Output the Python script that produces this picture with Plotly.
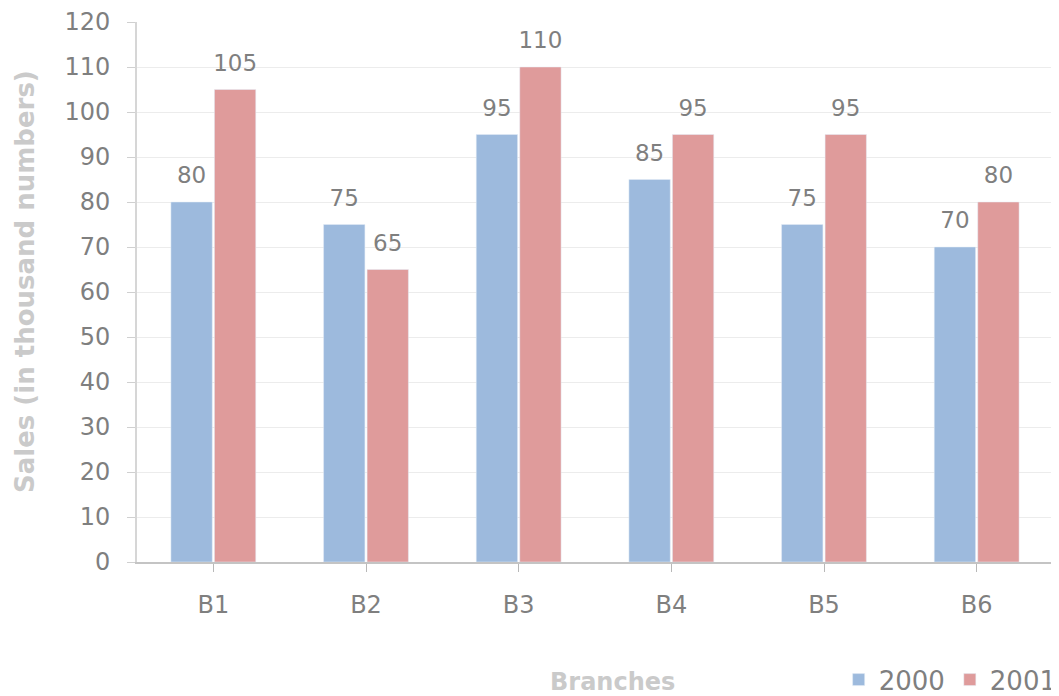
import plotly.graph_objects as go

branches = ["B1", "B2", "B3", "B4", "B5", "B6"]
sales_2000 = [80, 75, 95, 85, 75, 70]
sales_2001 = [105, 65, 110, 95, 95, 80]
y_ticks = list(range(0, 121, 10))

FONT = "DejaVu Sans"
TICK_GRAY = "#7f7f7f"
TITLE_GRAY = "#cacaca"
BLUE = "#9dbadd"
RED = "#df9b9b"
BARGAP = 0.43

# page body has an 8px margin; size the figure so it fills the window exactly
W, H = 1051, 688
ML, MR, MT, MB = 129, 6, 14, 134
PW, PH = W - ML - MR, H - MT - MB

fig = go.Figure()
for name, vals, col in [("2000", sales_2000, BLUE), ("2001", sales_2001, RED)]:
    fig.add_trace(go.Bar(
        name=name, x=branches, y=vals, marker_color=col,
        offsetgroup=name, alignmentgroup="bars", hoverinfo="skip",
    ))
# value labels, grouped like the bars
for name, vals in [("2000", sales_2000), ("2001", sales_2001)]:
    fig.add_trace(go.Scatter(
        x=branches, y=vals, mode="markers+text", text=[str(v) for v in vals],
        textposition="top center", showlegend=False, hoverinfo="skip",
        marker=dict(size=19, opacity=0), offsetgroup=name, alignmentgroup="labels",
        textfont=dict(family=FONT, size=23, color=TICK_GRAY), cliponaxis=False,
    ))

fig.update_layout(
    width=W, height=H,
    margin=dict(l=ML, r=MR, t=MT, b=MB, autoexpand=False),
    paper_bgcolor="white", plot_bgcolor="white",
    barmode="group", bargap=BARGAP, bargroupgap=0.05,
    scattermode="group", scattergap=BARGAP,
    font=dict(family=FONT, color=TICK_GRAY),
    showlegend=True,
    legend=dict(orientation="h", x=0.766, xanchor="left", y=-0.218, yanchor="middle",
                font=dict(family=FONT, size=26, color=TICK_GRAY),
                itemwidth=30, traceorder="normal", tracegroupgap=0),
)
fig.update_yaxes(
    range=[0, 120], tickvals=y_ticks, ticktext=[str(v) for v in y_ticks],
    showgrid=True, gridcolor="#ececec", gridwidth=1,
    ticks="outside", ticklen=8, tickcolor="#d0d0d0",
    showline=True, linecolor="#d6d6d6", linewidth=2,
    tickfont=dict(family=FONT, size=24, color=TICK_GRAY),
    ticklabelstandoff=12, zeroline=False, automargin=False,
)
fig.update_xaxes(
    showgrid=False, ticks="outside", ticklen=8, tickcolor="#b8b8b8",
    showline=True, linecolor="#c4c4c4", linewidth=1.5,
    tickfont=dict(family=FONT, size=24, color=TICK_GRAY),
    ticklabelstandoff=12, automargin=False,
)
fig.add_annotation(
    text="<b>Sales (in thousand numbers)</b>", textangle=-90,
    xref="paper", yref="paper", x=(25 - 137) / PW, y=(562 - 282) / PH,
    xanchor="center", yanchor="middle",
    showarrow=False, font=dict(family=FONT, size=26, color=TITLE_GRAY),
)
fig.add_annotation(
    text="<b>Branches</b>",
    xref="paper", yref="paper", x=(612 - 137) / PW, y=(562 - 682) / PH,
    xanchor="center", yanchor="middle",
    showarrow=False, font=dict(family=FONT, size=24, color=TITLE_GRAY),
)

fig.write_html("out.html")
